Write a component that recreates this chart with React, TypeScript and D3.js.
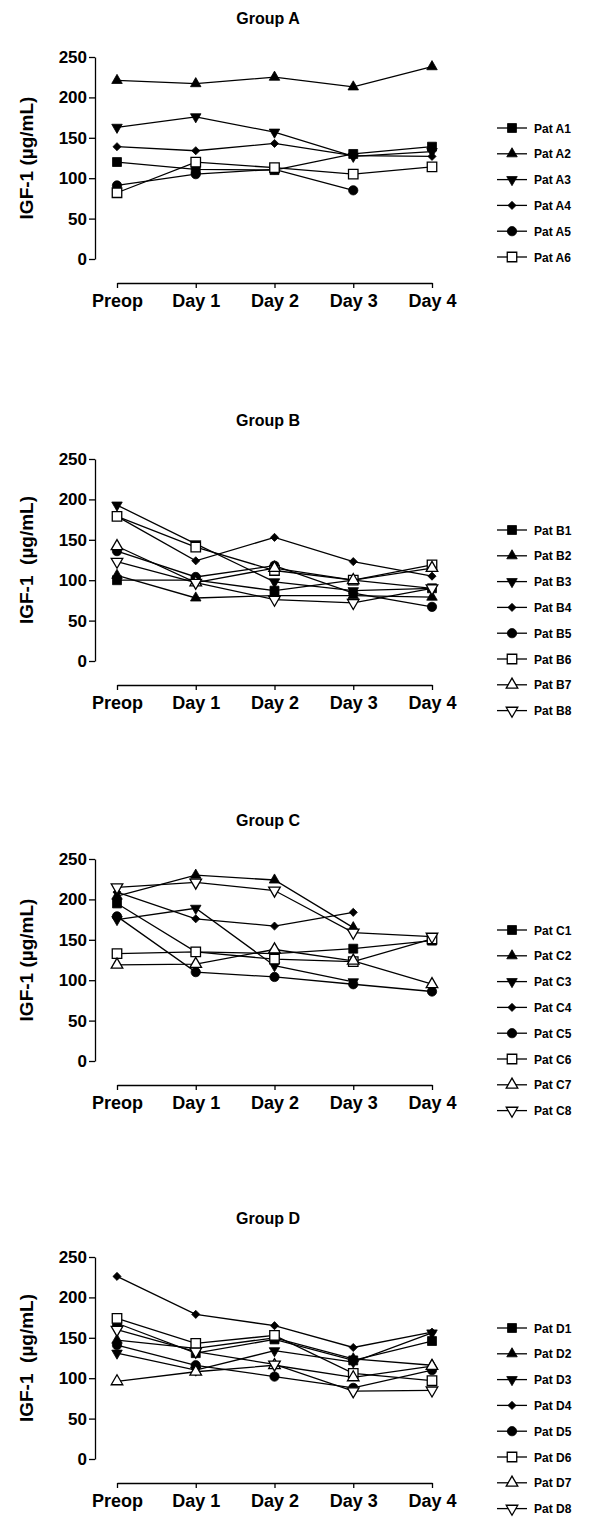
import * as d3 from "d3";
import React, { useRef, useEffect } from "react";

// x categories and y ticks shared by all panels
const days = ["Preop", "Day 1", "Day 2", "Day 3", "Day 4"];
const yTicks = [0, 50, 100, 150, 200, 250];

const groupTitles = ["Group A", "Group B", "Group C", "Group D"];
const yLabels = ["IGF-1 (µg/mL)", "IGF-1  (µg/mL)", "IGF-1 (µg/mL)", "IGF-1  (µg/mL)"];

const groupANames = ["Pat A1", "Pat A2", "Pat A3", "Pat A4", "Pat A5", "Pat A6"];
const groupAValues: (number | null)[][] = [
  [120, 111, 110, 130, 139],
  [221, 217, 225, 213, 238],
  [163, 176, 157, 127, 133],
  [139, 134, 143, 128, 127],
  [91, 105, 111, 85, null],
  [82, 120, 113, 105, 114],
];

const groupBNames = ["Pat B1", "Pat B2", "Pat B3", "Pat B4", "Pat B5", "Pat B6", "Pat B7", "Pat B8"];
const groupBValues: (number | null)[][] = [
  [100, 100, 87, 100, 90],
  [106, 78, 81, 81, 79],
  [193, 145, 98, 87, 90],
  [179, 124, 153, 123, 105],
  [136, 104, 118, 84, 67],
  [179, 141, 112, 100, 119],
  [142, 97, 115, 100, 115],
  [123, 97, 76, 72, 90],
];

const groupCNames = ["Pat C1", "Pat C2", "Pat C3", "Pat C4", "Pat C5", "Pat C6", "Pat C7", "Pat C8"];
const groupCValues: (number | null)[][] = [
  [195, 135, 133, 139, 149],
  [204, 230, 224, 165, null],
  [175, 189, 118, 98, null],
  [209, 176, 167, 184, null],
  [179, 110, 104, 95, 86],
  [133, 135, 126, 123, 151],
  [119, 120, 138, 124, 95],
  [215, 221, 211, 159, 154],
];

const groupDNames = ["Pat D1", "Pat D2", "Pat D3", "Pat D4", "Pat D5", "Pat D6", "Pat D7", "Pat D8"];
const groupDValues: (number | null)[][] = [
  [168, 131, 148, 122, 146],
  [147, 137, 150, 124, 116],
  [131, 110, 134, 120, 156],
  [226, 179, 165, 138, 157],
  [141, 116, 102, 88, 110],
  [174, 143, 153, 106, 97],
  [96, 108, 116, 101, 115],
  [160, 133, 117, 84, 85],
];

const groupNames = [groupANames, groupBNames, groupCNames, groupDNames];
const groupValues = [groupAValues, groupBValues, groupCValues, groupDValues];

// y of the 250 tick for each panel
const panelTops = [57, 459, 859, 1257];

const FONT = "'Liberation Sans', Arial, Helvetica, sans-serif";

// marker styles by series index (GraphPad style)
const markerDefs = [
  { type: d3.symbolSquare, size: 80, fill: "#000", rot: 0 },
  { type: d3.symbolTriangle, size: 48, fill: "#000", rot: 0 },
  { type: d3.symbolTriangle, size: 48, fill: "#000", rot: 180 },
  { type: d3.symbolDiamond2, size: 42, fill: "#000", rot: 0 },
  { type: d3.symbolCircle, size: 68, fill: "#000", rot: 0 },
  { type: d3.symbolSquare, size: 90, fill: "#fff", rot: 0 },
  { type: d3.symbolTriangle, size: 58, fill: "#fff", rot: 0 },
  { type: d3.symbolTriangle, size: 58, fill: "#fff", rot: 180 },
];

export default function App() {
  const svgRef = useRef<SVGSVGElement | null>(null);

  useEffect(() => {
    if (!svgRef.current) return;
    const svg = d3.select(svgRef.current);
    svg.selectAll("*").remove();

    const x = d3.scalePoint<string>().domain(days).range([117, 432]);

    const drawMarker = (g: any, idx: number, cx: number, cy: number) => {
      const m = markerDefs[idx];
      g.append("path")
        .attr("d", d3.symbol().type(m.type).size(m.size)())
        .attr("transform", `translate(${cx},${cy}) rotate(${m.rot})`)
        .attr("fill", m.fill)
        .attr("stroke", "#000")
        .attr("stroke-width", m.fill === "#fff" ? 1.3 : 0.8);
    };

    groupTitles.forEach((title, gi) => {
      const top = panelTops[gi];
      const y = d3.scaleLinear().domain([0, 250]).range([top + 202, top]);
      const g = svg.append("g");

      // title
      g.append("text")
        .attr("x", 268)
        .attr("y", top - 33)
        .attr("text-anchor", "middle")
        .attr("font-size", 16)
        .attr("font-weight", "bold")
        .text(title);

      // y axis
      const yAxis = d3.axisLeft(y).tickValues(yTicks).tickSize(6).tickPadding(2).tickSizeOuter(0);
      const ya = g.append("g").attr("transform", "translate(95,0)").call(yAxis);
      ya.selectAll("text").attr("font-size", 17).attr("font-weight", "bold").attr("font-family", FONT).attr("fill", "#000");
      ya.selectAll("line, path").attr("stroke", "#000").attr("stroke-width", 1.3);

      g.append("text")
        .attr("transform", `translate(33,${top + 101}) rotate(-90)`)
        .attr("text-anchor", "middle")
        .attr("font-size", 19)
        .attr("font-weight", "bold")
        .style("white-space", "pre")
        .text(yLabels[gi]);

      // x axis, offset below the plot
      const xAxis = d3.axisBottom(x).tickSize(5).tickPadding(6).tickSizeOuter(0);
      const xa = g.append("g").attr("transform", `translate(0,${top + 226})`).call(xAxis);
      xa.selectAll("text").attr("font-size", 18).attr("font-weight", "bold").attr("font-family", FONT).attr("fill", "#000");
      xa.selectAll("line, path").attr("stroke", "#000").attr("stroke-width", 1.3);

      // series
      const line = d3
        .line<number | null>()
        .defined((d) => d !== null)
        .x((_, i) => x(days[i])!)
        .y((d) => y(d as number));

      const values = groupValues[gi];
      values.forEach((vals, si) => {
        const sg = g.append("g");
        sg.append("path")
          .attr("d", line(vals))
          .attr("fill", "none")
          .attr("stroke", "#000")
          .attr("stroke-width", 1.3);
        vals.forEach((v, i) => {
          if (v === null) return;
          drawMarker(sg, si, x(days[i])!, y(v));
        });
      });

      // legend
      const names = groupNames[gi];
      names.forEach((name, si) => {
        const ly = top + 71 + si * 25.8;
        const lg = g.append("g");
        lg.append("line")
          .attr("x1", 497)
          .attr("x2", 527)
          .attr("y1", ly)
          .attr("y2", ly)
          .attr("stroke", "#000")
          .attr("stroke-width", 1.3);
        drawMarker(lg, si, 512, ly);
        lg.append("text")
          .attr("x", 534)
          .attr("y", ly + 4.5)
          .attr("font-size", 12)
          .attr("font-weight", "bold")
          .text(name);
      });
    });
  }, []);

  return (
    <svg
      ref={svgRef}
      width={600}
      height={1531}
      style={{ position: "absolute", left: 0, top: 0, background: "#fff", fontFamily: FONT }}
    ></svg>
  );
}
